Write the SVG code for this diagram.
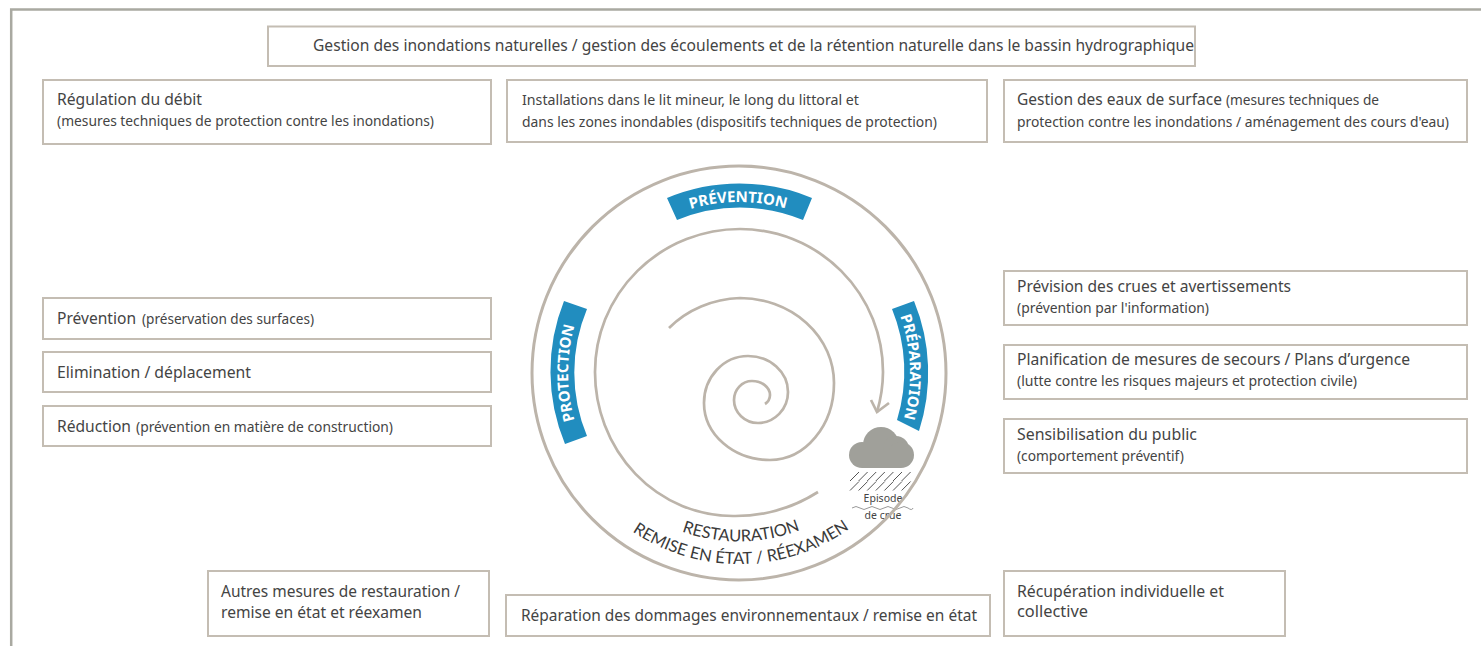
<svg xmlns="http://www.w3.org/2000/svg" width="1481" height="646" viewBox="0 0 1481 646">
<style>
.b{fill:#fff;stroke:#c4bdb3;stroke-width:2}
.t{font-family:"Noto Sans","Open Sans",sans-serif;fill:#444;font-size:16px}
.s{font-size:14px}
.sp{fill:none;stroke:#bcb4aa;stroke-width:2.700;stroke-linecap:butt}
.o{fill:none;stroke:#bcb4aa;stroke-width:3}
.band{fill:#218dbf}
.bt{font-family:"Noto Sans","Open Sans",sans-serif;font-weight:700;font-size:15px;fill:#fff;text-anchor:middle}
.rt{font-family:"Lato","Noto Sans",sans-serif;font-size:16.500px;fill:#3a3a3a;text-anchor:middle}
.e{font-family:"Noto Sans","Open Sans",sans-serif;font-size:10.500px;fill:#444;text-anchor:middle}
.r{stroke:#555;stroke-width:1;fill:none}
</style>
<defs>
<path id="pTop" d="M568,373A171,171 0 0 1 910,373" transform="rotate(-0.3 739 373)"/>
<path id="pLeft" d="M739,544A171,171 0 0 1 739,202"/>
<path id="pRight" d="M739,202A171,171 0 0 1 739,544" transform="rotate(-2 739 373)"/>
<path id="pB1" d="M570.500,373A168.500,168.500 0 0 0 907.500,373" transform="rotate(-0.7 739 373)"/>
<path id="pB2" d="M548,373A191,191 0 0 0 930,373" transform="rotate(-0.7 739 373)"/>
</defs>
<rect width="1481" height="646" fill="#fff"/>
<path id="frame" d="M11.2,646V9.6H1481" fill="none" stroke="#a9a9a1" stroke-width="2.5"/>

<g id="n-top"><rect class="b" x="268" y="26.500" width="927" height="39.500"/><text class="t" x="313" y="51" textLength="881" lengthAdjust="spacingAndGlyphs">Gestion des inondations naturelles / gestion des écoulements et de la rétention naturelle dans le bassin hydrographique</text></g>
<g id="n-regulation"><rect class="b" x="43" y="80" width="448" height="64"/><text class="t"><tspan x="57" y="105" textLength="145" lengthAdjust="spacingAndGlyphs">Régulation du débit</tspan><tspan class="s" x="57" y="126" textLength="377" lengthAdjust="spacingAndGlyphs">(mesures techniques de protection contre les inondations)</tspan></text></g>
<g id="n-installations"><rect class="b" x="507" y="80" width="480" height="62"/><text class="t s"><tspan x="522" y="105" textLength="337" lengthAdjust="spacingAndGlyphs">Installations dans le lit mineur, le long du littoral et</tspan><tspan x="522" y="127" textLength="415" lengthAdjust="spacingAndGlyphs">dans les zones inondables (dispositifs techniques de protection)</tspan></text></g>
<g id="n-eaux"><rect class="b" x="1004" y="80" width="463" height="62"/><text class="t"><tspan x="1017" y="105" textLength="205" lengthAdjust="spacingAndGlyphs">Gestion des eaux de surface</tspan><tspan class="s" x="1226" y="105" textLength="153" lengthAdjust="spacingAndGlyphs">(mesures techniques de</tspan><tspan class="s" x="1017" y="127" textLength="432" lengthAdjust="spacingAndGlyphs">protection contre les inondations / aménagement des cours d'eau)</tspan></text></g>

<g id="n-prevention"><rect class="b" x="43" y="298" width="448" height="41"/><text class="t"><tspan x="57" y="324" textLength="79" lengthAdjust="spacingAndGlyphs">Prévention</tspan><tspan class="s" x="142" y="324" textLength="172" lengthAdjust="spacingAndGlyphs">(préservation des surfaces)</tspan></text></g>
<g id="n-elimination"><rect class="b" x="43" y="352" width="448" height="40"/><text class="t" x="57" y="378" textLength="194" lengthAdjust="spacingAndGlyphs">Elimination / déplacement</text></g>
<g id="n-reduction"><rect class="b" x="43" y="406" width="448" height="40"/><text class="t"><tspan x="57" y="432" textLength="74" lengthAdjust="spacingAndGlyphs">Réduction</tspan><tspan class="s" x="136" y="432" textLength="257" lengthAdjust="spacingAndGlyphs">(prévention en matière de construction)</tspan></text></g>

<g id="n-prevision"><rect class="b" x="1004" y="271" width="463" height="54"/><text class="t"><tspan x="1017" y="292" textLength="274" lengthAdjust="spacingAndGlyphs">Prévision des crues et avertissements</tspan><tspan class="s" x="1017" y="313" textLength="192" lengthAdjust="spacingAndGlyphs">(prévention par l'information)</tspan></text></g>
<g id="n-planification"><rect class="b" x="1004" y="345" width="463" height="54"/><text class="t"><tspan x="1017" y="365" textLength="393" lengthAdjust="spacingAndGlyphs">Planification de mesures de secours / Plans d’urgence</tspan><tspan class="s" x="1017" y="386" textLength="340" lengthAdjust="spacingAndGlyphs">(lutte contre les risques majeurs et protection civile)</tspan></text></g>
<g id="n-sensibilisation"><rect class="b" x="1004" y="419" width="463" height="54"/><text class="t"><tspan x="1017" y="440" textLength="180" lengthAdjust="spacingAndGlyphs">Sensibilisation du public</tspan><tspan class="s" x="1017" y="461" textLength="167" lengthAdjust="spacingAndGlyphs">(comportement préventif)</tspan></text></g>

<g id="n-autres"><rect class="b" x="208" y="571" width="281" height="65"/><text class="t"><tspan x="221" y="597" textLength="239" lengthAdjust="spacingAndGlyphs">Autres mesures de restauration /</tspan><tspan x="221" y="618" textLength="201" lengthAdjust="spacingAndGlyphs">remise en état et réexamen</tspan></text></g>
<g id="n-reparation"><rect class="b" x="506" y="595" width="484" height="41"/><text class="t" x="521" y="621" textLength="456" lengthAdjust="spacingAndGlyphs">Réparation des dommages environnementaux / remise en état</text></g>
<g id="n-recuperation"><rect class="b" x="1004" y="571" width="281" height="65"/><text class="t"><tspan x="1017" y="597" textLength="207" lengthAdjust="spacingAndGlyphs">Récupération individuelle et</tspan><tspan x="1017" y="617" textLength="71" lengthAdjust="spacingAndGlyphs">collective</tspan></text></g>

<g id="episode">
<g fill="#a0a09a"><circle cx="862" cy="455" r="13"/><circle cx="881" cy="445" r="18"/><circle cx="896" cy="449" r="13"/><circle cx="901" cy="455" r="13"/><rect x="862" y="450" width="39" height="18"/></g>
<g class="r"><path d="M850,481L859,472M858.600,481L867.600,472M867.200,481L876.200,472M875.800,481L884.800,472M884.400,481L893.400,472M893,481L902,472M901.600,481L910.600,472M850,490.500L859,481.500M858.600,490.500L867.600,481.500M867.200,490.500L876.200,481.500M875.800,490.500L884.800,481.500M884.400,490.500L893.400,481.500M893,490.500L902,481.500M901.600,490.500L910.600,481.500"/></g>
<text class="e" x="883" y="501.500">Episode</text>
<path d="M852,508q4,-3 8,0t8,0t8,0t8,0t8,0t8,0t8,0t5,0" fill="none" stroke="#999" stroke-width="1"/>
<text class="e" x="883" y="519">de crue</text>
</g>

<g id="connectors">
<circle class="o" cx="739" cy="373" r="207"/>
<path class="sp" d="M818,492A150,144 0 0 1 733,516A138,144 0 0 1 595,372A145,143 0 0 1 740,229A143,143 0 0 1 883,372A143,143 0 0 1 877,412"/>
<path class="sp" d="M871,400L877,412L889,403"/>
<path class="sp" d="M669,328A100,90 0 0 1 740,298A94,85 0 0 1 834,383A64,77 0 0 1 770,460A66,57 0 0 1 704,403A44,47 0 0 1 748,356A40,36 0 0 1 788,392A30,31 0 0 1 758,423A24,23 0 0 1 734,400A18,19 0 0 1 752,381A18,14 0 0 1 770,395A11,11 0 0 1 765,404"/>
</g>

<g id="n-band-prevention"><path class="band" d="M667,198A189,189 0 0 1 812,198L803,220A165,165 0 0 0 677,220Z"/><text class="bt"><textPath href="#pTop" startOffset="50%">PRÉVENTION</textPath></text></g>
<g id="n-band-protection"><path class="band" d="M565,444A189,189 0 0 1 564,301L587,309A165,165 0 0 0 587,436Z"/><text class="bt"><textPath href="#pLeft" startOffset="50%">PROTECTION</textPath></text></g>
<g id="n-band-preparation"><path class="band" d="M914,301A189,189 0 0 1 919,431L897,420A165,165 0 0 0 892,309Z"/><text class="bt"><textPath href="#pRight" startOffset="50%">PRÉPARATION</textPath></text></g>
<g id="n-restauration"><text class="rt"><textPath href="#pB1" startOffset="50%">RESTAURATION</textPath></text><text class="rt"><textPath href="#pB2" startOffset="50%">REMISE EN ÉTAT / RÉEXAMEN</textPath></text></g>
</svg>
